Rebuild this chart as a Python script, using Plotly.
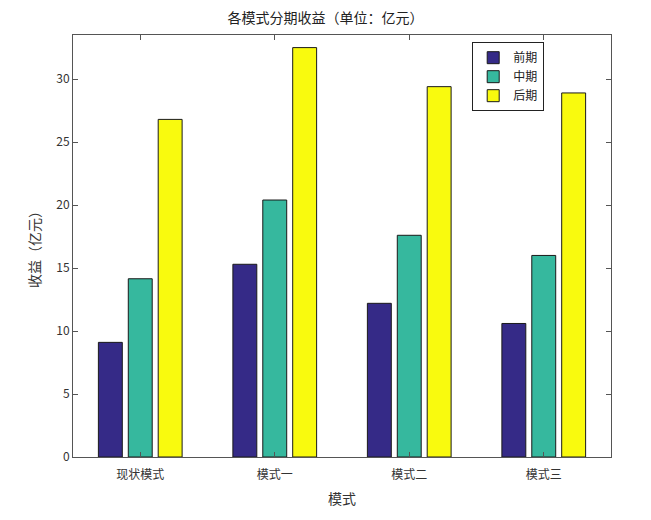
import plotly.graph_objects as go

categories = ["现状模式", "模式一", "模式二", "模式三"]
series_names = ["前期", "中期", "后期"]
early = [9.1, 15.3, 12.2, 10.6]
middle = [14.15, 20.4, 17.6, 16.0]
late = [26.8, 32.5, 29.4, 28.9]
colors = ["#352A87", "#36B89E", "#F9FA0E"]

FONT = "Noto Sans CJK SC"
fig = go.Figure()
for name, vals, c in zip(series_names, [early, middle, late], colors):
    fig.add_trace(go.Bar(x=categories, y=vals, name=name, marker=dict(color=c, line=dict(color="#1a1a1a", width=1))))

axis_common = dict(showline=True, linecolor="#555555", linewidth=1, mirror="ticks",
                   ticks="inside", ticklen=5, tickcolor="#555555", showgrid=False, zeroline=False,
                   tickfont=dict(family=FONT, size=12, color="#333333"))

fig.update_layout(
    width=651, height=520,
    margin=dict(l=73, r=40, t=35, b=63),
    paper_bgcolor="white", plot_bgcolor="white",
    barmode="group", bargap=0.333, bargroupgap=0.2,
    title=dict(text="各模式分期收益（单位：亿元）", x=0.5, xanchor="center", y=0.966, yanchor="middle",
               font=dict(family=FONT, size=14, color="#222222")),
    xaxis=dict(title=dict(text="模式", font=dict(family=FONT, size=14, color="#333333"), standoff=12),
               ticklabelstandoff=7, **axis_common),
    yaxis=dict(title=dict(text="收益（亿元）", font=dict(family=FONT, size=14, color="#333333"), standoff=12),
               range=[0, 33.5], dtick=5, **axis_common),
    legend=dict(x=0.742, y=0.983, xanchor="left", yanchor="top", bgcolor="white",
                bordercolor="#222222", borderwidth=1, font=dict(family=FONT, size=12, color="#222222"),
                tracegroupgap=0, itemwidth=30),
    showlegend=True,
)

fig.write_html("out.html")
